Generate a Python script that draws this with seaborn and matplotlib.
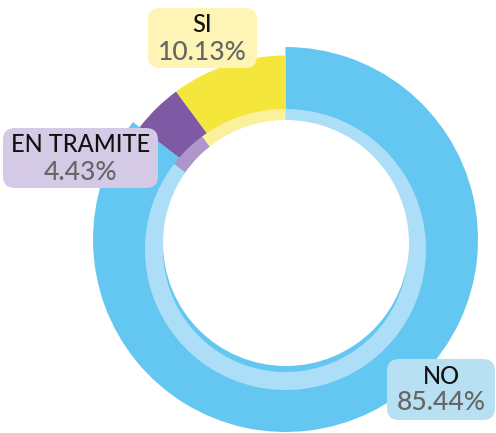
import matplotlib
matplotlib.use("Agg")
import matplotlib.pyplot as plt
from matplotlib.patches import FancyBboxPatch, Circle
import seaborn as sns

sns.set_theme(style="white")
plt.rcParams['font.family'] = ['Lato', 'DejaVu Sans']

# Data (clockwise from 12 o'clock)
categories = ["NO", "EN TRAMITE", "SI"]
percents = [85.44, 4.43, 10.13]
pct_labels = ["85.44%", "4.43%", "10.13%"]

main_colors = ["#63C7F2", "#7D5AA3", "#F5E63C"]
light_colors = ["#ADDEF8", "#AE95CB", "#FBF09B"]
box_colors = ["#B7E0F2", "#D4CAE6", "#FEF4B6"]

W, H = 496, 433
fig = plt.figure(figsize=(W / 100, H / 100), dpi=100)
ax = fig.add_axes([0, 0, 1, 1])

def fy(y):
    return H - y

# outer ring (full wedges)
wedges, _ = ax.pie(percents, colors=main_colors, startangle=90, counterclock=False,
                   center=(285.5, fy(239.5)), radius=192.5,
                   wedgeprops=dict(linewidth=0))
outer_r = [192.5, 184.0, 184.0]
for w, r in zip(wedges, outer_r):
    w.set_radius(r)

# lighter inner ring
ax.pie(percents, colors=light_colors, startangle=90, counterclock=False,
       center=(285.5, fy(249.5)), radius=140.5,
       wedgeprops=dict(width=18, linewidth=0))

# white hole
ax.add_patch(Circle((286, fy(243)), 123, facecolor="white", edgecolor="none", zorder=5))

# label boxes: (x0, y0, x1, y1) in pixel coords
boxes = [(387, 359, 495, 420), (3, 128, 158, 188), (148, 8, 257, 68)]
for (x0, y0, x1, y1), bc, cat, pl in zip(boxes, box_colors, categories, pct_labels):
    pad = 12
    ax.add_patch(FancyBboxPatch((x0 + pad, fy(y1) + pad), (x1 - x0) - 2 * pad, (y1 - y0) - 2 * pad,
                                boxstyle=f"round,pad={pad},rounding_size={pad}",
                                facecolor=bc, edgecolor="none", zorder=6))
    cx = (x0 + x1) / 2
    ax.text(cx, fy(y0 + 17), cat, ha="center", va="center", fontsize=17,
            fontweight="medium", color="#111111", zorder=7)
    ax.text(cx, fy(y0 + 44), pl, ha="center", va="center", fontsize=19,
            fontweight="medium", color="#666666", zorder=7)

ax.set_xlim(0, W)
ax.set_ylim(0, H)
ax.set_aspect("equal")
ax.axis("off")
fig.savefig("out.png", dpi=100)
